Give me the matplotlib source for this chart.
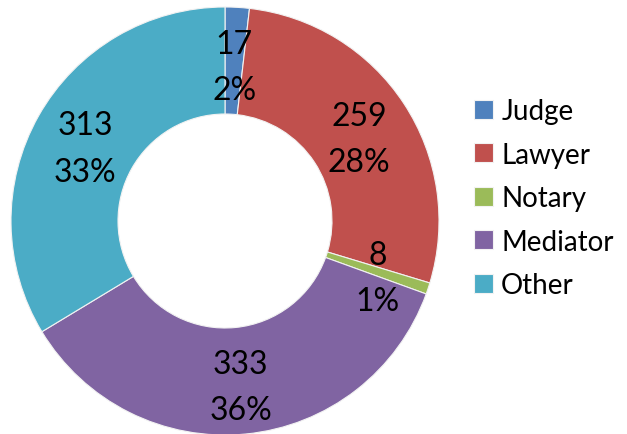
import matplotlib
matplotlib.use("Agg")
import matplotlib.pyplot as plt
import matplotlib.transforms as mtransforms
import numpy as np

categories = ["Judge", "Lawyer", "Notary", "Mediator", "Other"]
values = [17, 259, 8, 333, 313]
pct_labels = ["2%", "28%", "1%", "36%", "33%"]
colors = ["#4F81BD", "#C0504D", "#9BBB59", "#8064A2", "#4BACC6"]

plt.rcParams['font.family'] = ['Lato', 'DejaVu Sans']

W, H = 627, 435
fig = plt.figure(figsize=(W/100, H/100), dpi=100)
cx, cy, R = 225, 222, 214
ax = fig.add_axes([(cx-R)/W, (H-cy-R)/H, 2*R/W, 2*R/H])

width = 0.5
wedges, _ = ax.pie(values, colors=colors, startangle=90, counterclock=False,
                   radius=1, wedgeprops=dict(width=width, edgecolor='#F2F2F2', linewidth=0.8))
ax.set_xlim(-1, 1)
ax.set_ylim(-1, 1)
ax.axis('off')

trans = mtransforms.offset_copy(ax.transData, fig=fig, x=0, y=-4.5, units='points')
total = sum(values)
cum = 0
rmid = 1 - width/2
for v, p in zip(values, pct_labels):
    mid = (cum + v/2) / total * 2*np.pi
    cum += v
    x, y = rmid*np.sin(mid), rmid*np.cos(mid)
    ax.text(x, y, f"{v}\n{p}", ha='center', va='center', fontsize=23,
            linespacing=1.68, color='black', transform=trans)

leg = fig.legend(wedges, categories, loc='upper left',
                 bbox_to_anchor=(449/W, 1-74/H), frameon=False,
                 fontsize=20, handlelength=0.68, handleheight=0.68,
                 handletextpad=0.3, labelspacing=0.63)

fig.savefig("out.png", dpi=100)
